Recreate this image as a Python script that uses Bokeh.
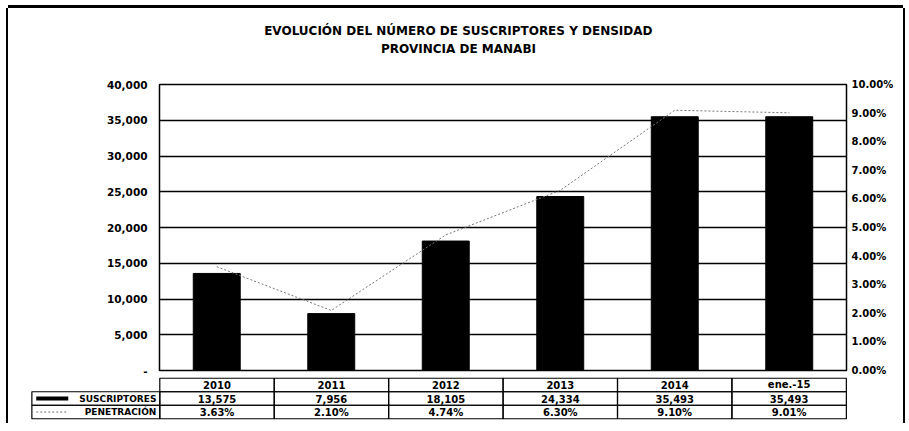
from bokeh.plotting import figure
from bokeh.models import Range1d, LinearAxis, FixedTicker, NumeralTickFormatter, PrintfTickFormatter
from bokeh.layouts import column
from bokeh.embed import file_html
from bokeh.resources import INLINE
from bokeh.core.properties import value

# ---- data ----
years = ["2010", "2011", "2012", "2013", "2014", "ene.-15"]
suscriptores = [13575, 7956, 18105, 24334, 35493, 35493]
penetracion = [3.63, 2.10, 4.74, 6.30, 9.10, 9.01]
y_ticks = [0, 5000, 10000, 15000, 20000, 25000, 30000, 35000, 40000]
pct_ticks = [0, 1, 2, 3, 4, 5, 6, 7, 8, 9, 10]
title1 = "EVOLUCIÓN DEL NÚMERO DE SUSCRIPTORES Y DENSIDAD"
title2 = "PROVINCIA DE  MANABI"
row_labels = ["SUSCRIPTORES", "PENETRACIÓN"]

FONT = "DejaVu Sans"
W = 895
n = len(years)
xs = [i + 0.5 for i in range(n)]
UNIT = 114.5      # px per category
X0 = 151          # fig x of category 0 start

# ---- title strip ----
p0 = figure(width=W, height=66, x_range=Range1d(-X0 / UNIT, (W - X0) / UNIT), y_range=Range1d(0, 66),
            output_backend="svg", toolbar_location=None, x_axis_location=None, y_axis_location=None,
            min_border_left=0, min_border_right=0, min_border_top=0, min_border_bottom=0)
p0.frame_align = False
p0.grid.visible = False
p0.outline_line_color = None
p0.text(x=[2.61, 2.63], y=[44, 26], text=[title1, title2], text_align="center", text_baseline="middle",
        text_font=value(FONT), text_font_style="bold", text_font_size="12px", text_color="black")

# ---- main chart ----
p = figure(width=W, height=303, x_range=Range1d(0, n), y_range=Range1d(0, 40000),
           output_backend="svg", toolbar_location=None, x_axis_location=None,
           min_border_left=X0, min_border_right=W - X0 - int(n * UNIT), min_border_top=10, min_border_bottom=7)
p.frame_align = False
p.xgrid.visible = False
p.ygrid.ticker = FixedTicker(ticks=y_ticks)
p.ygrid.grid_line_color = "black"
p.ygrid.grid_line_width = 1.5
p.outline_line_color = "black"
p.outline_line_width = 1.5

ya = p.yaxis[0]
ya.ticker = FixedTicker(ticks=y_ticks)
ya.formatter = NumeralTickFormatter(format="0,0")
ya.major_label_overrides = {0: "-"}
ya.axis_line_color = None
ya.major_tick_line_color = None
ya.minor_tick_line_color = None
ya.major_tick_out = 0
ya.major_tick_in = 0
ya.major_label_standoff = 12
ya.major_label_text_font = FONT
ya.major_label_text_font_style = "bold"
ya.major_label_text_font_size = "10.5px"
ya.major_label_text_color = "black"

p.extra_y_ranges = {"pct": Range1d(0, 10)}
ra = LinearAxis(y_range_name="pct", ticker=FixedTicker(ticks=pct_ticks),
                formatter=PrintfTickFormatter(format="%.2f%%"))
ra.axis_line_color = None
ra.major_tick_line_color = None
ra.minor_tick_line_color = None
ra.major_tick_out = 0
ra.major_tick_in = 0
ra.major_label_standoff = 5
ra.major_label_text_font = FONT
ra.major_label_text_font_style = "bold"
ra.major_label_text_font_size = "10px"
ra.major_label_text_color = "black"
p.add_layout(ra, "right")

p.vbar(x=xs, top=suscriptores, width=0.41, color="black")
p.line(xs, penetracion, y_range_name="pct", line_color="#777777", line_dash="2 2", line_width=1)

# ---- data table below ----
xl, xr = -1.13, n + 0.01
left_b = int(round(X0 + xl * UNIT))
p2 = figure(width=W, height=46, x_range=Range1d(xl, xr), y_range=Range1d(-0.05, 3.05),
            output_backend="svg", toolbar_location=None, x_axis_location=None, y_axis_location=None,
            min_border_left=left_b, min_border_right=W - int(round(X0 + xr * UNIT)),
            min_border_top=0, min_border_bottom=4)
p2.frame_align = False
p2.grid.visible = False
p2.outline_line_color = None

left = list(range(n))
right = [i + 1 for i in range(n)]
for b in [2, 1, 0]:
    p2.quad(left=left, right=right, bottom=[b] * n, top=[b + 1] * n,
            fill_color=None, line_color="black", line_width=1.2)
p2.quad(left=[-1.118, -1.118], right=[0, 0], bottom=[1, 0], top=[2, 1],
        fill_color=None, line_color="black", line_width=1.2)

subs_text = [f"{v:,}" for v in suscriptores]
pen_text = [f"{v:.2f}%" for v in penetracion]
for txts, yy in [(years, 2.5), (subs_text, 1.5), (pen_text, 0.5)]:
    p2.text(x=xs, y=[yy] * n, text=txts, text_align="center", text_baseline="middle",
            text_font=value(FONT), text_font_style="bold", text_font_size="10px", text_color="black")
p2.text(x=[-0.03, -0.03], y=[1.5, 0.5], text=row_labels, text_align="right", text_baseline="middle",
        text_font=value(FONT), text_font_style="bold", text_font_size="9px", text_color="black")
p2.segment(x0=[-1.08], x1=[-0.80], y0=[1.5], y1=[1.5], line_color="black", line_width=4)
p2.segment(x0=[-1.08], x1=[-0.80], y0=[0.5], y1=[0.5], line_color="#777777", line_width=1, line_dash="2 2")

layout = column(p0, p, p2, spacing=0,
                styles={"margin-left": "8px", "margin-top": "8px",
                        "box-shadow": "0 -3px 0 0 black, -2px 0 0 0 black, 2px 0 0 0 black"})

open("out.html", "w").write(file_html(layout, INLINE))
